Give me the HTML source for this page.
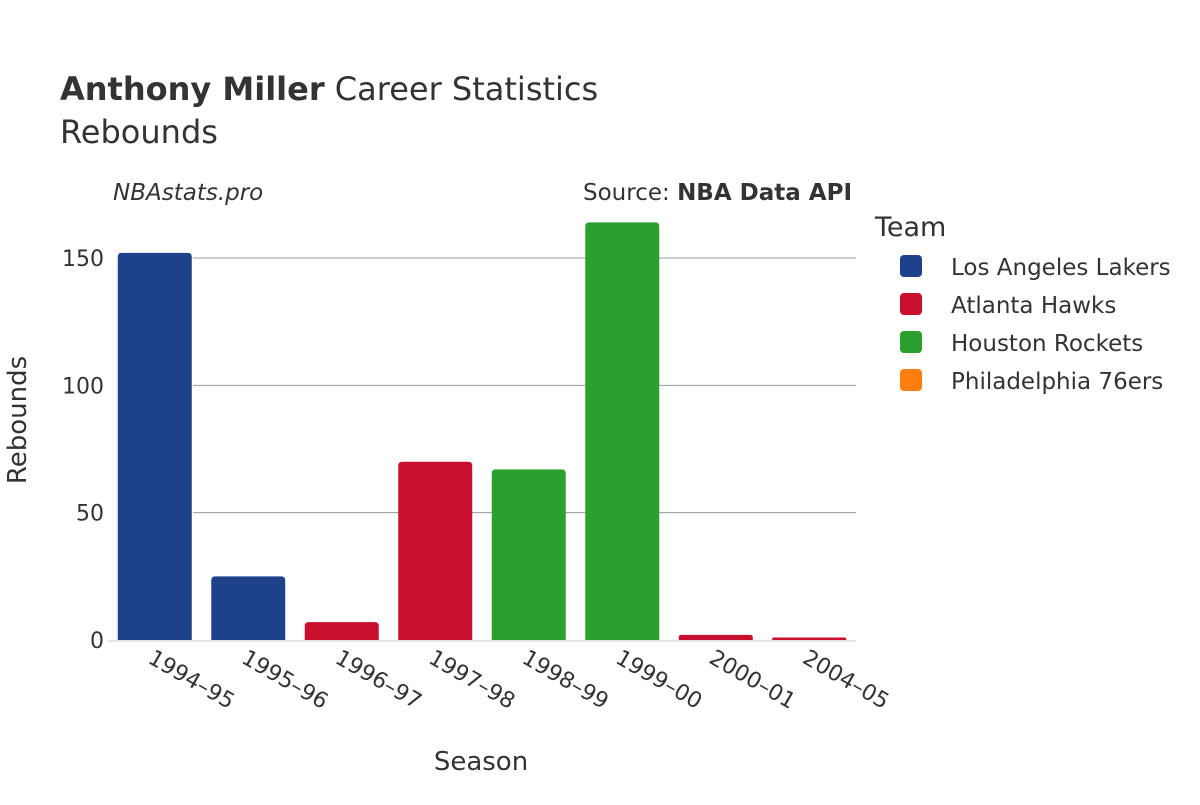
<!DOCTYPE html>
<html><head><meta charset="utf-8">
<style>
body{margin:0;background:#fff;}
svg{font-family:"DejaVu Sans","Liberation Sans",sans-serif;}
</style></head>
<body>
<svg id="chart" width="1200" height="800">
<text x="60" y="100" font-size="32" fill="#333"><tspan font-weight="bold">Anthony Miller</tspan> Career Statistics</text>
<text x="60" y="143" font-size="32" fill="#333">Rebounds</text>
<text x="113" y="200" font-size="23" font-style="italic" fill="#333">NBAstats.pro</text>
<text x="852" y="200" font-size="23" fill="#333" text-anchor="end">Source: <tspan font-weight="bold">NBA Data API</tspan></text>
<g id="grid"></g>
<g id="bars"></g>
<g id="xticks"></g>
<g id="yticks"></g>
<text x="481" y="770" font-size="26" fill="#333" text-anchor="middle">Season</text>
<text transform="translate(26,420) rotate(-90)" font-size="26" fill="#333" text-anchor="middle">Rebounds</text>
<g id="legend"><text x="875" y="236" font-size="27" fill="#333">Team</text></g>
</svg>
<script>
const categories=["1994–95","1995–96","1996–97","1997–98","1998–99","1999–00","2000–01","2004–05"];
const values=[152,25,7,70,67,164,2,1];
const teams=["Los Angeles Lakers","Los Angeles Lakers","Atlanta Hawks","Atlanta Hawks","Houston Rockets","Houston Rockets","Atlanta Hawks","Atlanta Hawks"];
const legendTeams=["Los Angeles Lakers","Atlanta Hawks","Houston Rockets","Philadelphia 76ers"];
const yTicks=[0,50,100,150];
const colors={"Los Angeles Lakers":"#1d428a","Atlanta Hawks":"#c8102e","Houston Rockets":"#2ca02c","Philadelphia 76ers":"#ff7f0e"};
const NS="http://www.w3.org/2000/svg";
const x0=108,x1=856,y0=640,yTop=258,yTopVal=150;
const band=(x1-x0)/categories.length;
const xs=i=>x0+band*i+band/2;
const ys=v=>y0-(v/yTopVal)*(y0-yTop);
function mk(tag,attrs,parent){const e=document.createElementNS(NS,tag);for(const k in attrs)e.setAttribute(k,attrs[k]);document.getElementById(parent).appendChild(e);return e;}
yTicks.forEach(t=>{
 if(t>0){const l=mk("line",{x1:x0+85,x2:x1,y1:ys(t),y2:ys(t),stroke:"#999","stroke-width":1},"grid");
 
 }
 const tx=mk("text",{x:104,y:ys(t)+8,"font-size":22,fill:"#333","text-anchor":"end"},"yticks");
 tx.textContent=t;
 
 
});
const base=mk("line",{x1:x0,x2:x1,y1:y0+1,y2:y0+1,stroke:"#e6e6e6","stroke-width":2},"grid");


const bw=74;
values.forEach((v,i)=>{
 const top=ys(v),h=y0-top,r=Math.min(4,h/2);
 const x=xs(i)-bw/2;
 const d=`M${x},${y0} L${x},${top+r} Q${x},${top} ${x+r},${top} L${x+bw-r},${top} Q${x+bw},${top} ${x+bw},${top+r} L${x+bw},${y0} Z`;
 const p=mk("path",{d:d,fill:colors[teams[i]]},"bars");
 
 
 const t=mk("text",{x:0,y:0,"font-size":22,fill:"#333",transform:`translate(${xs(i)-8},${y0+22}) rotate(30)`},"xticks");
 t.textContent=categories[i];
 
 
});
legendTeams.forEach((tm,i)=>{
 const y=266+i*38;
 const c=mk("rect",{x:900,y:y-11,width:22,height:22,rx:4,fill:colors[tm]},"legend");
 
 
 const t=mk("text",{x:951,y:y+9,"font-size":23,fill:"#333"},"legend");
 t.textContent=tm;
 
 
});
</script>
</body></html>
